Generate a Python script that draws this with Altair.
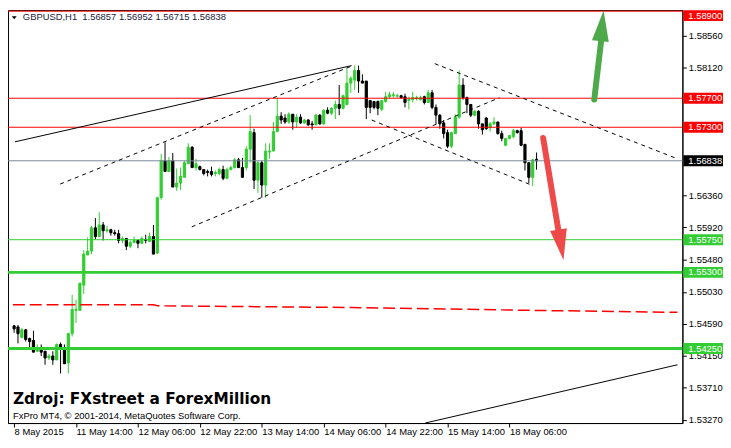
import altair as alt
import pandas as pd

# ---------------- data ----------------
open_ = [
    1.54562, 1.54548, 1.54401, 1.54508, 1.54388, 1.54361, 1.54213, 1.54240, 1.54213, 1.54120,
    1.54147, 1.54093, 1.54307, 1.54254, 1.54053, 1.54455, 1.54776, 1.54776, 1.55124, 1.55539,
    1.55593, 1.55914, 1.55794, 1.55954, 1.55874, 1.55887, 1.55847, 1.55834, 1.55740, 1.55767,
    1.55660, 1.55713, 1.55740, 1.55700, 1.55753, 1.55727, 1.55794, 1.55566, 1.56329, 1.56838,
    1.56690, 1.56838, 1.56476, 1.56530, 1.56610, 1.56798, 1.57025, 1.56744, 1.56757, 1.56717,
    1.56690, 1.56690, 1.56663, 1.56663, 1.56717, 1.56596, 1.56717, 1.56744, 1.56851, 1.56744,
    1.56744, 1.56998, 1.57226, 1.56570, 1.56811, 1.56503, 1.56958, 1.56972, 1.57239, 1.57453,
    1.57427, 1.57373, 1.57480, 1.57373, 1.57440, 1.57360, 1.57400, 1.57347, 1.57333, 1.57467,
    1.57347, 1.57534, 1.57494, 1.57561, 1.57614, 1.57561, 1.57614, 1.57909, 1.57949, 1.58083,
    1.57937, 1.57937, 1.57668, 1.57655, 1.57655, 1.57547, 1.57655, 1.57721, 1.57735, 1.57728,
    1.57735, 1.57721, 1.57668, 1.57681, 1.57695, 1.57681, 1.57721, 1.57641, 1.57775, 1.57574,
    1.57467, 1.57360, 1.57226, 1.57039, 1.57213, 1.57440, 1.57882, 1.57708, 1.57614, 1.57467,
    1.57521, 1.57347, 1.57427, 1.57293, 1.57347, 1.57373, 1.57213, 1.57052, 1.57146, 1.57173,
    1.57253, 1.57253, 1.57065, 1.56811, 1.56610, 1.56857,
]
high = [
    1.54575, 1.54575, 1.54535, 1.54521, 1.54401, 1.54495, 1.54307, 1.54307, 1.54213, 1.54174,
    1.54213, 1.54321, 1.54334, 1.54307, 1.54468, 1.54990, 1.54923, 1.55151, 1.55606, 1.55780,
    1.55941, 1.56048, 1.56128, 1.55994, 1.55941, 1.55901, 1.55887, 1.55887, 1.55794, 1.55767,
    1.55740, 1.55794, 1.55753, 1.55794, 1.55820, 1.55847, 1.55954, 1.56342, 1.56931, 1.57092,
    1.56891, 1.56945, 1.56731, 1.56744, 1.56838, 1.57079, 1.57039, 1.56865, 1.56771, 1.56717,
    1.56717, 1.56757, 1.56704, 1.56744, 1.56771, 1.56744, 1.56771, 1.56878, 1.56878, 1.56878,
    1.57039, 1.57467, 1.57280, 1.56838, 1.56838, 1.57079, 1.57079, 1.57373, 1.57708, 1.57507,
    1.57480, 1.57507, 1.57480, 1.57480, 1.57480, 1.57413, 1.57413, 1.57387, 1.57480, 1.57480,
    1.57547, 1.57574, 1.57574, 1.57668, 1.57882, 1.57748, 1.58110, 1.58003, 1.58150, 1.58150,
    1.58029, 1.57937, 1.57668, 1.57655, 1.57668, 1.57668, 1.57788, 1.57788, 1.57788, 1.57762,
    1.57748, 1.57762, 1.57721, 1.57788, 1.57735, 1.57735, 1.57735, 1.57815, 1.57815, 1.57614,
    1.57480, 1.57400, 1.57266, 1.57239, 1.57480, 1.58083, 1.57976, 1.57721, 1.57614, 1.57534,
    1.57534, 1.57347, 1.57440, 1.57373, 1.57440, 1.57373, 1.57253, 1.57146, 1.57186, 1.57280,
    1.57266, 1.57293, 1.57065, 1.56811, 1.56865, 1.56952,
]
low = [
    1.54468, 1.54321, 1.54401, 1.54347, 1.54267, 1.54200, 1.54200, 1.54147, 1.54026, 1.54093,
    1.54026, 1.54093, 1.53906, 1.54040, 1.53906, 1.54415, 1.54602, 1.54776, 1.55004, 1.55539,
    1.55552, 1.55753, 1.55794, 1.55740, 1.55847, 1.55807, 1.55807, 1.55700, 1.55700, 1.55606,
    1.55633, 1.55700, 1.55633, 1.55700, 1.55700, 1.55727, 1.55552, 1.55552, 1.56302, 1.56690,
    1.56690, 1.56476, 1.56423, 1.56436, 1.56610, 1.56798, 1.56744, 1.56704, 1.56704, 1.56637,
    1.56623, 1.56623, 1.56623, 1.56637, 1.56570, 1.56583, 1.56704, 1.56731, 1.56744, 1.56610,
    1.56704, 1.56811, 1.56449, 1.56396, 1.56329, 1.56329, 1.56865, 1.56972, 1.57239, 1.57347,
    1.57347, 1.57347, 1.57266, 1.57293, 1.57347, 1.57347, 1.57320, 1.57266, 1.57333, 1.57333,
    1.57333, 1.57480, 1.57467, 1.57413, 1.57467, 1.57547, 1.57601, 1.57775, 1.57815, 1.57775,
    1.57909, 1.57413, 1.57494, 1.57547, 1.57467, 1.57521, 1.57641, 1.57695, 1.57708, 1.57708,
    1.57695, 1.57574, 1.57547, 1.57641, 1.57668, 1.57668, 1.57614, 1.57641, 1.57547, 1.57347,
    1.57280, 1.57146, 1.57012, 1.57012, 1.57213, 1.57413, 1.57681, 1.57494, 1.57440, 1.57453,
    1.57280, 1.57199, 1.57266, 1.57239, 1.57333, 1.57199, 1.57106, 1.57039, 1.57132, 1.57146,
    1.57213, 1.57039, 1.56704, 1.56530, 1.56490, 1.56715,
]
close = [
    1.54521, 1.54455, 1.54508, 1.54374, 1.54347, 1.54200, 1.54254, 1.54200, 1.54120, 1.54147,
    1.54093, 1.54307, 1.54254, 1.54040, 1.54455, 1.54789, 1.54789, 1.55151, 1.55552, 1.55593,
    1.55914, 1.55794, 1.55954, 1.55874, 1.55887, 1.55847, 1.55834, 1.55740, 1.55767, 1.55660,
    1.55713, 1.55740, 1.55700, 1.55767, 1.55740, 1.55794, 1.55552, 1.56329, 1.56838, 1.56690,
    1.56838, 1.56476, 1.56530, 1.56623, 1.56811, 1.57025, 1.56744, 1.56798, 1.56717, 1.56663,
    1.56677, 1.56650, 1.56677, 1.56717, 1.56596, 1.56717, 1.56744, 1.56851, 1.56744, 1.56610,
    1.56998, 1.57239, 1.56570, 1.56811, 1.56503, 1.56972, 1.56972, 1.57239, 1.57453, 1.57400,
    1.57373, 1.57480, 1.57373, 1.57440, 1.57360, 1.57400, 1.57333, 1.57333, 1.57467, 1.57347,
    1.57534, 1.57494, 1.57561, 1.57614, 1.57561, 1.57735, 1.57909, 1.57976, 1.58083, 1.57937,
    1.57909, 1.57574, 1.57574, 1.57574, 1.57561, 1.57668, 1.57721, 1.57748, 1.57748, 1.57735,
    1.57708, 1.57641, 1.57681, 1.57708, 1.57708, 1.57708, 1.57641, 1.57775, 1.57574, 1.57467,
    1.57347, 1.57213, 1.57039, 1.57226, 1.57440, 1.57882, 1.57708, 1.57614, 1.57467, 1.57521,
    1.57347, 1.57266, 1.57280, 1.57347, 1.57373, 1.57213, 1.57146, 1.57146, 1.57186, 1.57253,
    1.57226, 1.57052, 1.56811, 1.56610, 1.56851, 1.56838,
]

x_ticks = [0, 16, 32, 48, 64, 80, 96, 112, 128]
x_labels = ["8 May 2015", "11 May 14:00", "12 May 06:00", "12 May 22:00", "13 May 14:00",
            "14 May 06:00", "14 May 22:00", "15 May 14:00", "18 May 06:00"]
y_ticks = [1.53270, 1.53710, 1.54150, 1.54590, 1.55030, 1.55480, 1.55920, 1.56360,
           1.58120, 1.58560]

levels = [1.58900, 1.57700, 1.57300, 1.56838, 1.55750, 1.55300, 1.54250]
level_colors = ["#FF0000", "#FF0000", "#FF0000", "#778899", "#32CD32", "#32CD32", "#32CD32"]
level_widths = [1, 1, 1, 1, 1, 3, 3]
label_colors = ["#FF0000", "#FF0000", "#FF0000", "#000000", "#32CD32", "#32CD32", "#32CD32"]

ma_x = [-0.3, 36, 37, 87, 134, 171.4]
ma_p = [1.54852, 1.54852, 1.54839, 1.54816, 1.54776, 1.54749]

solid_seg = ["a", "a", "b", "b"]
solid_x = [0.2, 87.2, 106.2, 171.4]
solid_p = [1.57099, 1.58150, 1.53223, 1.54026]

dash_seg = ["c", "c", "d", "d", "e", "e", "f", "f"]
dash_x = [11.9, 86.9, 45.9, 125.4, 108.7, 171.4, 92.4, 133.7]
dash_p = [1.56517, 1.58137, 1.55927, 1.57708, 1.58177, 1.56865, 1.57400, 1.56503]

green_arrow_x = [149.9, 151.7]
green_arrow_p = [1.57681, 1.58498]
green_head = (151.9, 1.58699)
red_arrow_x = [136.7, 140.7]
red_arrow_p = [1.57152, 1.55860]
red_head = (141.3, 1.55680)

header_text = "GBPUSD,H1\u00a0\u00a01.56857 1.56952 1.56715 1.56838"
source_text = "Zdroj: FXstreet a ForexMillion"
copy_text = "FxPro MT4, \u00a9 2001-2014, MetaQuotes Software Corp."

# ---------------- build ----------------
W, H = 681, 417
PAD_R, PAD_B = 41, 15
FONT = "Liberation Sans"
GREEN = "#32CD32"

candles = pd.DataFrame({"i": list(range(len(open_))), "o": open_, "h": high, "l": low, "c": close})
candles["col"] = [GREEN if c >= o else "#000000" for o, c in zip(open_, close)]

xs = alt.Scale(domain=[-0.3, 171.4], nice=False, zero=False)
ys = alt.Scale(domain=[1.53223, 1.58915], nice=False, zero=False)

lab_expr = "[" + ",".join("'%s'" % s for s in x_labels) + "][round(datum.value/16)]"
x_axis = alt.Axis(values=x_ticks, labelExpr=lab_expr, title=None, grid=False,
                  labelAlign="left", labelFlush=False, tickSize=4, labelPadding=0,
                  labelFont=FONT, labelFontSize=9.5, labelColor="black",
                  domainColor="black", tickColor="black", labelOverlap=False)
y_axis = alt.Axis(values=y_ticks, format=".5f", orient="right", title=None, grid=False,
                  tickSize=4, labelPadding=2, labelFont=FONT, labelFontSize=9.5,
                  labelColor="black", domainColor="black", tickColor="black",
                  labelOverlap=False, labelFlush=False)


def X(f):
    return alt.X(f, type="quantitative", scale=xs, axis=x_axis)


def Y(f):
    return alt.Y(f, type="quantitative", scale=ys, axis=y_axis)


wicks = alt.Chart(candles).mark_rule(strokeWidth=1).encode(
    x=X("i"), y=Y("l"), y2="h", color=alt.Color("col:N", scale=None))
bodies = alt.Chart(candles).mark_bar(size=2.2, strokeWidth=1).encode(
    x=X("i"), y=Y("o"), y2="c",
    color=alt.Color("col:N", scale=None), stroke=alt.Stroke("col:N", scale=None))

lv = pd.DataFrame({"p": levels, "col": level_colors, "w": level_widths,
                   "bg": label_colors, "txt": ["%.5f" % v for v in levels]})
level_rules = alt.Chart(lv).mark_rule().encode(
    y=Y("p"), color=alt.Color("col:N", scale=None), size=alt.Size("w:Q", scale=None))

ma_df = pd.DataFrame({"i": ma_x, "p": ma_p})
ma_line = alt.Chart(ma_df).mark_line(color="#FF0000", strokeWidth=1.5, strokeDash=[12, 5],
                                     clip=True).encode(x=X("i"), y=Y("p"))

solid_df = pd.DataFrame({"seg": solid_seg, "i": solid_x, "p": solid_p})
solid_lines = alt.Chart(solid_df).mark_line(color="black", strokeWidth=1, clip=True).encode(
    x=X("i"), y=Y("p"), detail="seg:N")
dash_df = pd.DataFrame({"seg": dash_seg, "i": dash_x, "p": dash_p})
dash_lines = alt.Chart(dash_df).mark_line(color="black", strokeWidth=1, strokeDash=[4, 4],
                                          clip=True).encode(x=X("i"), y=Y("p"), detail="seg:N")

HEAD = "M0,-1L0.55,1L-0.55,1Z"
g_df = pd.DataFrame({"i": green_arrow_x, "p": green_arrow_p})
g_shaft = alt.Chart(g_df).mark_line(color="#4EA94B", strokeWidth=6, strokeCap="round").encode(
    x=X("i"), y=Y("p"))
g_head = alt.Chart(pd.DataFrame({"i": [green_head[0]], "p": [green_head[1]]})).mark_point(
    shape=HEAD, size=961, filled=True, color="#4EA94B", opacity=1, angle=6).encode(
    x=X("i"), y=Y("p"))
r_df = pd.DataFrame({"i": red_arrow_x, "p": red_arrow_p})
r_shaft = alt.Chart(r_df).mark_line(color="#EF4A4A", strokeWidth=6, strokeCap="round").encode(
    x=X("i"), y=Y("p"))
r_head = alt.Chart(pd.DataFrame({"i": [red_head[0]], "p": [red_head[1]]})).mark_point(
    shape=HEAD, size=961, filled=True, color="#EF4A4A", opacity=1, angle=170.6).encode(
    x=X("i"), y=Y("p"))

# price tags on the right axis (the top one nudged down so it stays inside the picture)
lv_top = lv.iloc[:1]
lv_rest = lv.iloc[1:]
TOP_SHIFT = 4.5


def tag_layers(df, shift):
    box = alt.Chart(df).mark_rule(strokeWidth=11, strokeCap="butt", yOffset=shift).encode(
        x=alt.value(W + 1), x2=alt.value(W + PAD_R), y=Y("p"),
        color=alt.Color("bg:N", scale=None))
    txt = alt.Chart(df).mark_text(align="left", baseline="middle", color="white",
                                  font=FONT, fontSize=9.5, dy=shift).encode(
        x=alt.value(W + 6), y=Y("p"), text="txt:N")
    return box, txt


box_top, txt_top = tag_layers(lv_top, TOP_SHIFT)
box_rest, txt_rest = tag_layers(lv_rest, 0)

ann = pd.DataFrame({"t": [header_text]})
header = alt.Chart(ann).mark_text(align="left", baseline="middle", font=FONT, fontSize=9.5,
                                  color="#1a1a3a").encode(
    x=alt.value(15), y=alt.value(7.5), text="t:N")
tri = alt.Chart(ann).mark_point(shape="M-1,-0.6L1,-0.6L0,0.6Z", size=25, filled=True,
                                color="black", opacity=1).encode(
    x=alt.value(6.3), y=alt.value(7.7))
src = alt.Chart(pd.DataFrame({"t": [source_text]})).mark_text(
    align="left", baseline="alphabetic", font="DejaVu Sans", fontWeight="bold",
    fontSize=15.5, color="black").encode(x=alt.value(5), y=alt.value(H - 19), text="t:N")
cpy = alt.Chart(pd.DataFrame({"t": [copy_text]})).mark_text(
    align="left", baseline="middle", font=FONT, fontSize=9.5, color="black").encode(
    x=alt.value(5), y=alt.value(H - 7.3), text="t:N")

chart = alt.layer(
    wicks, bodies, ma_line, level_rules, solid_lines, dash_lines,
    g_shaft, g_head, r_shaft, r_head, box_rest, txt_rest, box_top, txt_top,
    header, tri, src, cpy
).properties(
    width=W, height=H, background="white",
    padding={"left": 0, "top": 0, "right": PAD_R, "bottom": PAD_B},
    autosize=alt.AutoSizeParams(type="none"),
).configure_view(stroke="black", strokeWidth=1)

chart.save("out.html", embed_options={"renderer": "svg", "actions": False})
